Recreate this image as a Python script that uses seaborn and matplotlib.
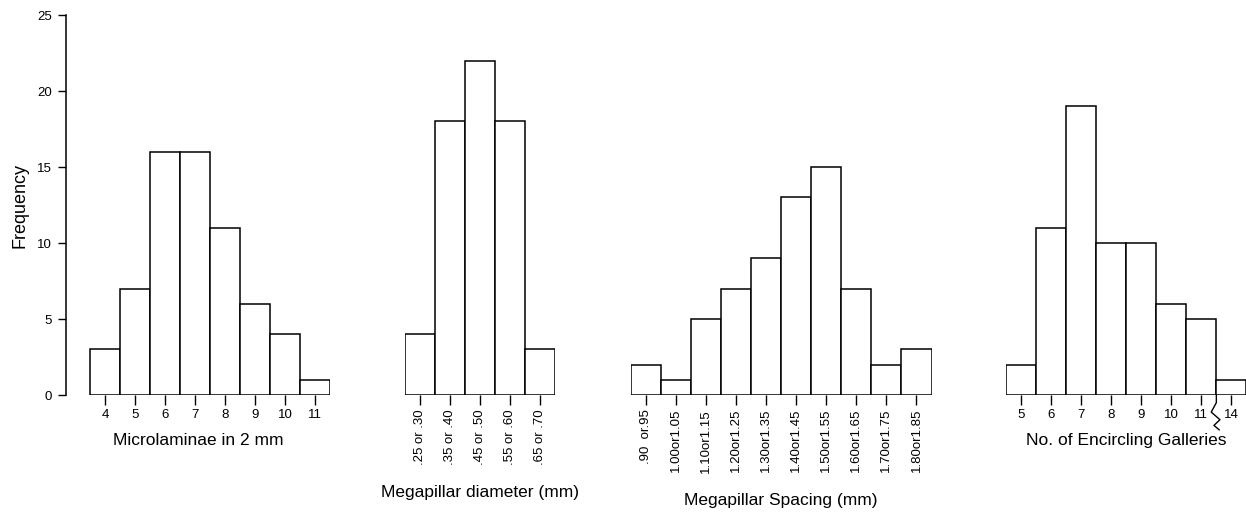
import matplotlib
matplotlib.use("Agg")
import matplotlib.pyplot as plt
import matplotlib.transforms as mtransforms
import seaborn as sns

# ---- data ----
micro_labels = ["4", "5", "6", "7", "8", "9", "10", "11"]
micro_freq = [3, 7, 16, 16, 11, 6, 4, 1]

diam_labels = [".25 or .30", ".35 or .40", ".45 or .50", ".55 or .60", ".65 or .70"]
diam_freq = [4, 18, 22, 18, 3]

spacing_labels = [".90  or.95", "1.00or1.05", "1.10or1.15", "1.20or1.25", "1.30or1.35",
                  "1.40or1.45", "1.50or1.55", "1.60or1.65", "1.70or1.75", "1.80or1.85"]
spacing_freq = [2, 1, 5, 7, 9, 13, 15, 7, 2, 3]

gallery_labels = ["5", "6", "7", "8", "9", "10", "11", "14"]
gallery_freq = [2, 11, 19, 10, 10, 6, 5, 1]

y_ticks = [0, 5, 10, 15, 20, 25]

sns.set_theme(style="white")
plt.rcParams["font.family"] = ["Liberation Sans", "DejaVu Sans"]
plt.rcParams["text.color"] = "black"
plt.rcParams["axes.labelcolor"] = "black"
plt.rcParams["xtick.color"] = "black"
plt.rcParams["ytick.color"] = "black"

W, H = 1246, 512
fig = plt.figure(figsize=(W / 100, H / 100), dpi=100)

bottom = (H - 395) / H
height = (395 - 15) / H
bar_px = 30.05

def make_ax(left_px, n, extra_left=0.0):
    width_px = (n + extra_left) * bar_px
    return fig.add_axes([left_px / W, bottom, width_px / W, height])

panels = [
    (micro_labels, micro_freq, "Microlaminae in 2 mm", 90, 0, 0.8, 9),
    (diam_labels, diam_freq, "Megapillar diameter (mm)", 405, 90, 0, 15),
    (spacing_labels, spacing_freq, "Megapillar Spacing (mm)", 631, 90, 0, 15),
    (gallery_labels, gallery_freq, "No. of Encircling Galleries", 1006, 0, 0, 9),
]

axes = []
for i, (labels, vals, xlabel, left_px, rot, extra, lpad) in enumerate(panels):
    n = len(labels)
    ax = make_ax(left_px - extra * bar_px, n, extra)
    sns.barplot(x=labels, y=vals, ax=ax, color="white", edgecolor="black",
                linewidth=1.1, width=1.0, saturation=1, errorbar=None)
    ax.set_xlim(-0.5 - extra, n - 0.5)
    ax.set_ylim(0, 25)
    ax.set_yticks(y_ticks)
    for s in ax.spines.values():
        s.set_visible(False)
    ax.tick_params(axis="x", direction="out", length=7, width=1, color="black",
                   labelsize=9.5, pad=3, bottom=True, labelrotation=rot)
    if i == 0:
        ax.spines["left"].set_visible(True)
        ax.spines["left"].set_color("black")
        ax.spines["left"].set_linewidth(1.1)
        ax.tick_params(axis="y", direction="out", length=6, width=1, color="black",
                       labelsize=9.5, pad=4, left=True)
        ax.set_ylabel("Frequency", fontsize=13, labelpad=6)
    else:
        ax.set_yticks([])
        ax.set_ylabel("")
    ax.set_xlabel(xlabel, fontsize=12.5, labelpad=lpad)
    ax.patch.set_alpha(0)
    axes.append(ax)

# axis break mark on the last panel between 11 and 14
ax4 = axes[3]
trans = mtransforms.blended_transform_factory(ax4.transData, ax4.transAxes)
zx = [6.5, 6.5, 6.33, 6.62, 6.42, 6.6]
zy = [0.0, -0.02, -0.045, -0.065, -0.08, -0.092]
ax4.plot(zx, zy, color="black", lw=1, transform=trans, clip_on=False)

fig.savefig("out.png", dpi=100, facecolor="white")
